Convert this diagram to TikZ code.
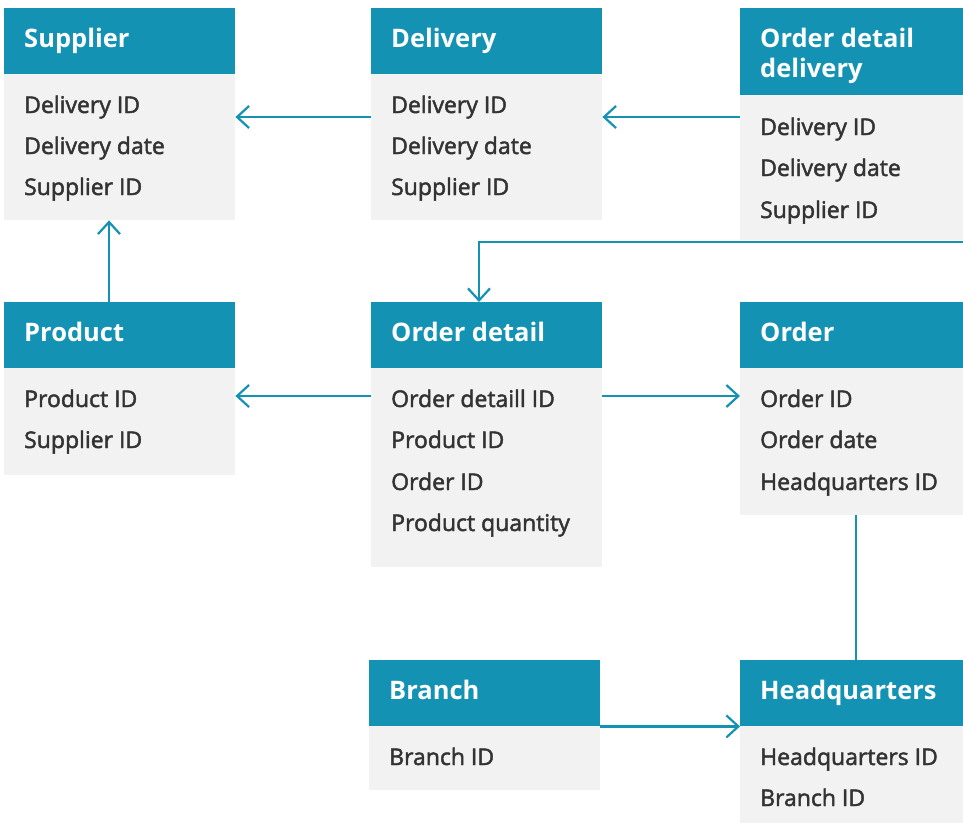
\documentclass[tikz,border=0pt]{standalone}
\usepackage{fontspec}
\usetikzlibrary{arrows.meta}
\newfontfamily\bodyfont{Open Sans}[FakeBold=2]
\newfontfamily\hdrfont{Open Sans}
\definecolor{tealc}{HTML}{1392B4}
\definecolor{bodyc}{HTML}{F2F2F2}
\definecolor{txtc}{HTML}{333333}
\tikzset{
  hbox/.style={fill=tealc, draw=none, anchor=north west, inner sep=0pt},
  bbox/.style={fill=bodyc, draw=none, anchor=north west, inner sep=0pt},
  htxt/.style={anchor=base west, inner sep=0pt, text=white, font=\hdrfont\bfseries\fontsize{25.5}{30}\selectfont},
  btxt/.style={anchor=base west, inner sep=0pt, text=txtc, font=\bodyfont\fontsize{23}{27}\selectfont},
  arr/.style={draw=tealc, line width=2.2pt, -{Straight Barb[length=12pt,width=22pt,line width=2.2pt]}},
  conn/.style={draw=tealc, line width=2.2pt}
}
\begin{document}
\begin{tikzpicture}[x=1pt,y=-1pt]
\useasboundingbox[fill=white] (0,0) rectangle (963,823);
% Supplier
\node[hbox, minimum width=231pt, minimum height=66pt] (suph) at (4,8) {};
\node[bbox, minimum width=231pt, minimum height=146pt] (supb) at (4,74) {};
\node[htxt] (supt) at (24,47) {Supplier};
\node[btxt] (sup1) at (24,113) {Delivery ID};
\node[btxt] (sup2) at (24,154) {Delivery date};
\node[btxt] (sup3) at (24,195) {Supplier ID};
% Delivery
\node[hbox, minimum width=231pt, minimum height=66pt] (delh) at (371,8) {};
\node[bbox, minimum width=231pt, minimum height=146pt] (delb) at (371,74) {};
\node[htxt] (delt) at (391,47) {Delivery};
\node[btxt] (del1) at (391,113) {Delivery ID};
\node[btxt] (del2) at (391,154) {Delivery date};
\node[btxt] (del3) at (391,195) {Supplier ID};
% Order detail delivery
\node[hbox, minimum width=223pt, minimum height=87pt] (oddh) at (740,8) {};
\node[bbox, minimum width=223pt, minimum height=145pt] (oddb) at (740,95) {};
\node[htxt] (oddt1) at (760,47) {Order detail};
\node[htxt] (oddt2) at (760,77) {delivery};
\node[btxt] (odd1) at (760,135) {Delivery ID};
\node[btxt] (odd2) at (760,176) {Delivery date};
\node[btxt] (odd3) at (760,218) {Supplier ID};
% Product
\node[hbox, minimum width=231pt, minimum height=66pt] (prodh) at (4,302) {};
\node[bbox, minimum width=231pt, minimum height=107pt] (prodb) at (4,368) {};
\node[htxt] (prodt) at (24,341) {Product};
\node[btxt] (prod1) at (24,407) {Product ID};
\node[btxt] (prod2) at (24,448) {Supplier ID};
% Order detail
\node[hbox, minimum width=231pt, minimum height=66pt] (odh) at (371,302) {};
\node[bbox, minimum width=231pt, minimum height=199pt] (odb) at (371,368) {};
\node[htxt] (odt) at (391,341) {Order detail};
\node[btxt] (od1) at (391,407) {Order detaill ID};
\node[btxt] (od2) at (391,448) {Product ID};
\node[btxt] (od3) at (391,490) {Order ID};
\node[btxt] (od4) at (391,531) {Product quantity};
% Order
\node[hbox, minimum width=223pt, minimum height=66pt] (ordh) at (740,302) {};
\node[bbox, minimum width=223pt, minimum height=147pt] (ordb) at (740,368) {};
\node[htxt] (ordt) at (760,341) {Order};
\node[btxt] (ord1) at (760,407) {Order ID};
\node[btxt] (ord2) at (760,448) {Order date};
\node[btxt] (ord3) at (760,490) {Headquarters ID};
% Branch
\node[hbox, minimum width=231pt, minimum height=66pt] (brh) at (369,660) {};
\node[bbox, minimum width=231pt, minimum height=64pt] (brb) at (369,726) {};
\node[htxt] (brt) at (389,699) {Branch};
\node[btxt] (br1) at (389,765) {Branch ID};
% Headquarters
\node[hbox, minimum width=223pt, minimum height=66pt] (hqh) at (740,660) {};
\node[bbox, minimum width=223pt, minimum height=97pt] (hqb) at (740,726) {};
\node[htxt] (hqt) at (760,699) {Headquarters};
\node[btxt] (hq1) at (760,765) {Headquarters ID};
\node[btxt] (hq2) at (760,806) {Branch ID};
% connectors
\draw[arr] (delb.west |- 0,117) -- (supb.east |- 0,117);
\draw[arr] (oddb.west |- 0,117) -- (delb.east |- 0,117);
\draw[arr] (109,0 |- prodh.north) -- (109,0 |- supb.south);
\coordinate (odde) at (963,242);
\draw[arr] (odde) -| (odh.north -| 479,0);
\draw[arr] (odb.west |- 0,396) -- (prodb.east |- 0,396);
\draw[arr] (odb.east |- 0,396) -- (ordb.west |- 0,396);
\draw[conn] (856,0 |- ordb.south) -- (856,0 |- hqh.north);
\draw[arr] (brh.south east) -- (hqh.south west);
\end{tikzpicture}
\end{document}
